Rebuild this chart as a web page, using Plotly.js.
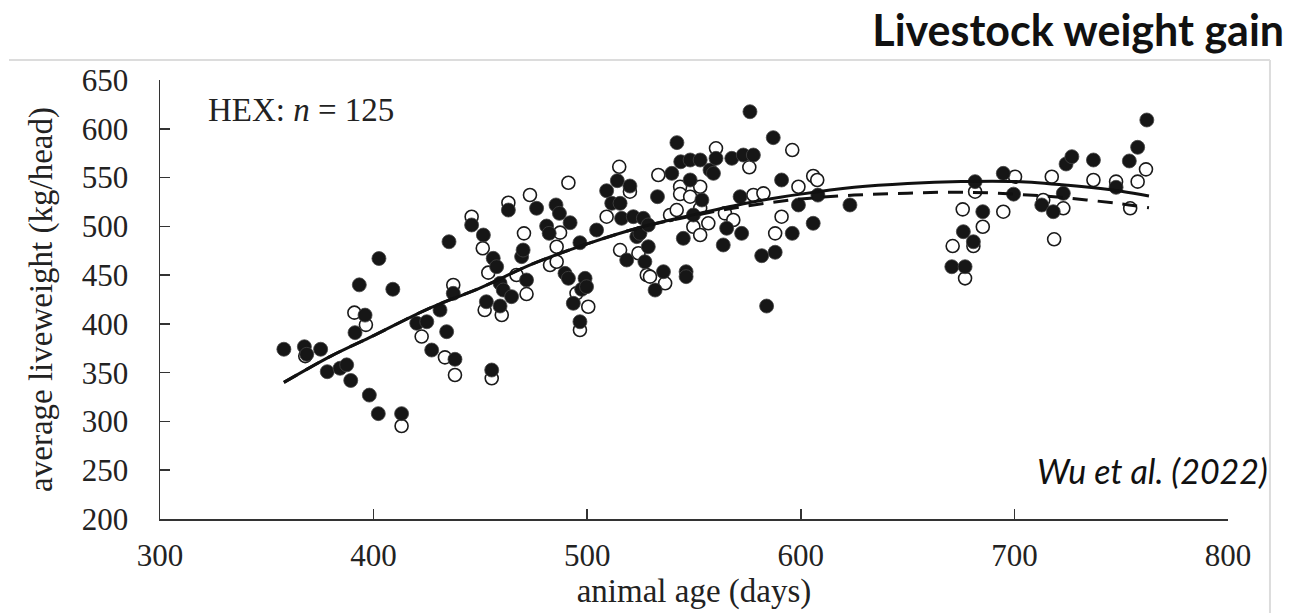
<!DOCTYPE html>
<html>
<head>
<meta charset="utf-8">
<script src="https://cdn.plot.ly/plotly-3.0.1.min.js"></script>
<style>
  html, body { margin: 0; padding: 0; background: #ffffff; }
  #chart { width: 1309px; height: 613px; }
</style>
</head>
<body>
<div id="chart"></div>
<script>
// ---- data ----
const ageFilled = [358, 367.6, 368.7, 375.2, 378.3, 384.3, 387.4, 389.3, 391.3, 393.3, 396, 398, 402.2, 402.5, 409, 413.1,
  420.2, 424.9, 427.2, 431.1, 434.2, 435.3, 437.3, 438.1, 445.9, 451.4, 452.8, 455.3, 456, 457.6, 459.2, 459.2, 460.7,
  463.1, 464.6, 469.3, 470, 471.6, 476.3, 481, 482.2, 485.4, 487, 489.6, 491.2, 492, 493.5, 496.6, 496.6, 497.4, 499,
  499.7, 504.4, 509.1, 511.5, 514.1, 515.4, 516.1, 518.5, 520, 521.6, 523.2, 524.7, 526.3, 528.6, 527, 528.6, 531.8,
  532.9, 535.7, 539.6, 542, 543.8, 545, 546.3, 546.3, 548.2, 548.2, 549.7, 552.9, 553.7, 557.5, 559.1, 560.3, 563.7,
  565.3, 567.7, 571.6, 572.3, 573.1, 576.2, 577.8, 581.7, 584, 587.1, 588, 591, 596, 598.9, 605.8, 608, 623, 670.7,
  676.1, 676.9, 680.8, 681.6, 685.2, 694.8, 699.6, 712.8, 718.2, 722.9, 724.2, 726.9, 737, 747.6, 753.8, 757.7, 762];
const weightFilled = [374, 376.6, 368.8, 374, 351, 354.5, 358, 342, 391, 440, 409, 327, 308, 467, 435.5, 308,
  400.6, 402.2, 373.2, 414.2, 392, 484.2, 431.3, 363.7, 501.4, 491.1, 422.7, 352.7, 467.2, 458.6, 441.6, 418.3, 434.7,
  516.7, 427.9, 468.9, 475.7, 445, 518.5, 500.3, 492.8, 521.9, 513.3, 451.8, 446.7, 503.7, 421.1, 483.2, 402.2, 435.4, 446.7,
  438.1, 496.2, 536.5, 523.6, 546.8, 523.6, 508.2, 465.5, 541.3, 509.9, 489.4, 492.8, 508.2, 501.4, 463.7, 479.1, 434.7,
  530.4, 453.5, 554.3, 585.8, 566.2, 487.7, 453.5, 448.4, 568, 547.5, 511.6, 568, 527, 557.7, 554.3, 569.7, 480.9,
  498, 569.7, 530.4, 492.8, 573.1, 617.5, 573.1, 469.9, 418.3, 590.9, 473.4, 547.5, 492.8, 521.9, 503.1, 532, 521.9, 458.6,
  494.5, 458.6, 484.2, 545.8, 515, 554.3, 533, 521.9, 515, 533.8, 563.9, 571.4, 568, 540, 567, 581, 609];

const ageOpen = [368, 391, 396.4, 413.1, 422.5, 433.4, 437.3, 438.1, 445.9, 451.1, 452, 453.7, 455.3, 460, 463.1, 466.9,
  470.4, 471.6, 473.2, 482.6, 485.7, 485.7, 487.3, 491.2, 495, 496.6, 500.5, 509.1, 515, 515.4, 520, 524, 527.9, 529.4,
  533.3, 536.5, 538.8, 541.9, 543.5, 543.5, 548.2, 549.7, 552.9, 552.9, 552.9, 556.7, 560.3, 564.5, 568.4, 575.9, 577.8,
  582.5, 588, 591, 596, 598.9, 605.8, 607.7, 671.1, 675.8, 676.9, 680.8, 681.6, 685.2, 694.8, 700.3, 713.5, 717.5,
  718.6, 722.9, 737, 747.6, 754.2, 757.7, 761.6];
const weightOpen = [367, 411.5, 399, 295.3, 387, 365.7, 439.9, 347.6, 509.9, 477.5, 414.2, 452.5, 344.2, 409.1, 524.2, 450.1,
  492.8, 430.6, 532.1, 460.4, 463.7, 479.1, 493.5, 544.7, 431.3, 393.7, 417.6, 509.9, 561, 475.7, 535.5, 472.4, 450.1, 448.4,
  552.6, 441.6, 511.6, 516.7, 540.6, 533.1, 530.4, 499.6, 540.6, 518.5, 491.1, 503.1, 580, 513.3, 506.5, 560.5, 532.1,
  533.8, 492.8, 509.9, 578.2, 540.6, 551.6, 547.5, 479.8, 517.4, 446.7, 479.8, 535.5, 499.6, 515, 550.9, 527, 550.9,
  486.7, 518.5, 547.5, 545.8, 518.5, 545.8, 558.4];

// fitted curves
const curveAge    = [358, 380, 400, 425, 450, 475, 500, 525, 550, 575, 600, 625, 650, 675, 700, 725, 750, 763];
const curveSolid  = [340, 367, 388, 415, 437, 462, 482, 499, 512, 524, 533, 540, 544, 546, 546, 542, 536, 531];
const curveDashed = [340, 367, 388, 415, 437, 462, 482, 499, 511, 521, 528, 532, 534, 535, 533, 529, 523, 519];

const xTicks = [300, 400, 500, 600, 700, 800];
const yTicks = [200, 250, 300, 350, 400, 450, 500, 550, 600, 650];

const serif = "'Liberation Serif', 'Times New Roman', serif";

const traces = [
  { x: ageOpen, y: weightOpen, type: 'scatter', mode: 'markers', hoverinfo: 'skip',
    marker: { symbol: 'circle', size: 13, color: '#ffffff', line: { color: '#1a1a1a', width: 1.6 } } },
  { x: ageFilled, y: weightFilled, type: 'scatter', mode: 'markers', hoverinfo: 'skip',
    marker: { symbol: 'circle', size: 14, color: '#161616', line: { color: '#444444', width: 0.8 } } },
  { x: curveAge, y: curveDashed, type: 'scatter', mode: 'lines', hoverinfo: 'skip',
    line: { color: '#111111', width: 3, dash: '15px,10px', shape: 'spline' } },
  { x: curveAge, y: curveSolid, type: 'scatter', mode: 'lines', hoverinfo: 'skip',
    line: { color: '#111111', width: 3, shape: 'spline' } }
];

const layout = {
  width: 1309, height: 613,
  paper_bgcolor: '#ffffff', plot_bgcolor: '#ffffff',
  showlegend: false,
  margin: { l: 160, r: 81, t: 80, b: 94, pad: 0 },
  title: {
    text: '<b>Livestock weight gain</b>',
    font: { family: "Lato, 'Open Sans', sans-serif", size: 43, color: '#111111' },
    xref: 'container', yref: 'container', x: 0.981, xanchor: 'right', y: 0.949, yanchor: 'middle'
  },
  xaxis: {
    range: [300, 800], tickvals: xTicks, ticktext: xTicks.map(String),
    ticks: 'inside', ticklen: 10, tickwidth: 1.5, tickcolor: '#333333',
    showline: true, linecolor: '#333333', linewidth: 1.5, mirror: false,
    showgrid: false, zeroline: false, ticklabelstandoff: 8,
    tickfont: { family: serif, size: 31, color: '#222222' },
    title: { text: 'animal age (days)', font: { family: serif, size: 33, color: '#222222' }, standoff: 6 }
  },
  yaxis: {
    range: [200, 650], tickvals: yTicks, ticktext: yTicks.map(String),
    ticks: 'inside', ticklen: 10, tickwidth: 1.5, tickcolor: '#333333',
    showline: true, linecolor: '#333333', linewidth: 1.5, mirror: false,
    showgrid: false, zeroline: false, ticklabelstandoff: 24,
    tickfont: { family: serif, size: 31, color: '#222222' },
    title: { text: 'average liveweight (kg/head)', font: { family: serif, size: 33, color: '#222222' }, standoff: 19 }
  },
  annotations: [
    { text: 'HEX: <i>n</i> = 125', xref: 'paper', yref: 'paper', x: 0.043, y: 0.932,
      xanchor: 'left', yanchor: 'middle', showarrow: false,
      font: { family: serif, size: 33, color: '#222222' } },
    { text: '<i>Wu et al. (2022)</i>', xref: 'paper', yref: 'paper', x: 1.0393, y: 0.1116,
      xanchor: 'right', yanchor: 'middle', showarrow: false,
      font: { family: "Lato, 'Open Sans', sans-serif", size: 34, color: '#111111' } }
  ],
  shapes: [
    { type: 'line', xref: 'paper', yref: 'paper', x0: -0.1414, x1: 1.0393, y0: 1.0456, y1: 1.0456,
      line: { color: '#dcdcdc', width: 2 } },
    { type: 'line', xref: 'paper', yref: 'paper', x0: 1.0393, x1: 1.0393, y0: 1.0456, y1: -0.22,
      line: { color: '#dcdcdc', width: 2 } }
  ]
};

Plotly.newPlot('chart', traces, layout, { staticPlot: true, displayModeBar: false });
</script>
</body>
</html>
